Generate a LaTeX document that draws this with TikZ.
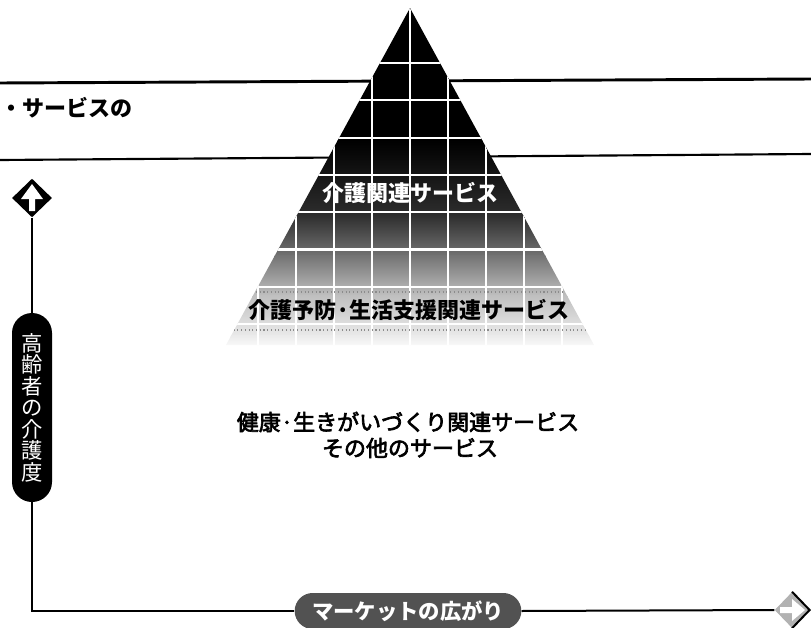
\documentclass[tikz,border=0pt]{standalone}
\usepackage{fontspec}
\newfontfamily\cjk{Noto Sans CJK JP}
\newfontfamily\cjkmed[FakeBold=3]{Noto Sans CJK JP}
\usetikzlibrary{shapes.geometric}
\begin{document}
\begin{tikzpicture}[x=0.75pt,y=-0.75pt,
  conn/.style={line width=1.5pt, black},
  gridline/.style={white, line width=1.6pt},
  faint/.style={black!45, dotted, line width=0.8pt},
  pillv/.style={fill=black, rounded corners=15pt, minimum width=30pt, minimum height=141.75pt, inner sep=0pt, text=white, font=\cjk\fontsize{16}{16.1}\selectfont, align=center},
  pillh/.style={fill=black!68, rounded corners=13.5pt, minimum width=170pt, minimum height=27pt, inner sep=0pt, text=white, font=\cjk\bfseries\fontsize{16}{18}\selectfont},
  marker/.style={diamond, inner sep=0pt, minimum width=30pt, minimum height=29pt},
  lbl/.style={font=\cjk\bfseries\fontsize{16.5}{18}\selectfont, inner sep=0pt},
  lblmed/.style={font=\cjkmed\fontsize{16.5}{18}\selectfont, inner sep=0pt},
]
\useasboundingbox (0,0) rectangle (811,628);
% title band lines
\draw[line width=2.2pt] (0,83) -- (811,79);
\draw[line width=1.6pt] (0,160) -- (811,154);
\node[lbl, anchor=west] (title) at (0,108) {・サービスの};
% pyramid
\begin{scope}
  \clip (410,8) -- (226,345) -- (594,345) -- cycle;
  \fill[black] (200,0) rectangle (620,141);
  \shade[top color=black, bottom color=black!82] (200,140) rectangle (620,216);
  \shade[top color=black!82, bottom color=black!55] (200,215) rectangle (620,256);
  \shade[top color=black!55, bottom color=black!25] (200,255) rectangle (620,296);
  \shade[top color=black!25, bottom color=black!8] (200,295) rectangle (620,336);
  \shade[top color=black!8, bottom color=white] (200,335) rectangle (620,350);
  \foreach \k in {-5,...,5} \draw[gridline] ({410+38*\k},0) -- ({410+38*\k},350);
  \foreach \k in {0,...,8} \draw[gridline] (200,{63+37.3*\k}) -- (620,{63+37.3*\k});
  \draw[faint] (200,292) -- (620,292);
  \draw[faint] (200,330) -- (620,330);
\end{scope}
% service labels
\node[lbl, text=white] (care) at (410,193) {介護関連サービス};
\node[lbl] (prev) at (409,310) {介護予防·生活支援関連サービス};
\node[lblmed] (health) at (408,422) {健康·生きがいづくり関連サービス};
\node[lblmed] (other) at (410,448) {その他のサービス};
% vertical axis
\node[marker, fill=black] (up) at (32,198) {};
\begin{scope}[shift={(up.center)}]
  \fill[white] (0,-14) -- (-11,1) -- (-3,1) -- (-3,13) -- (3,13) -- (3,1) -- (11,1) -- cycle;
\end{scope}
\node[pillv] (degree) at (32,407.5) {高\\齢\\者\\の\\介\\護\\度};
\draw[conn] (up.south) -- (degree.north);
% horizontal axis
\node[pillh] (market) at (408,611) {マーケットの広がり};
\node[marker, fill=black!30, minimum width=26pt, minimum height=27pt] (right) at (792,610) {};
\begin{scope}[shift={(right.center)}]
  \fill[white] (13,0) -- (0,-11) -- (0,-3) -- (-12,-3) -- (-12,3) -- (0,3) -- (0,11) -- cycle;
\end{scope}
\draw[line width=1.5pt] (right.north) -- (right.east) -- (right.south);
\draw[conn] (degree.south) |- (market.west);
\draw[conn] (market.east) -- (right.west);
\end{tikzpicture}
\end{document}
